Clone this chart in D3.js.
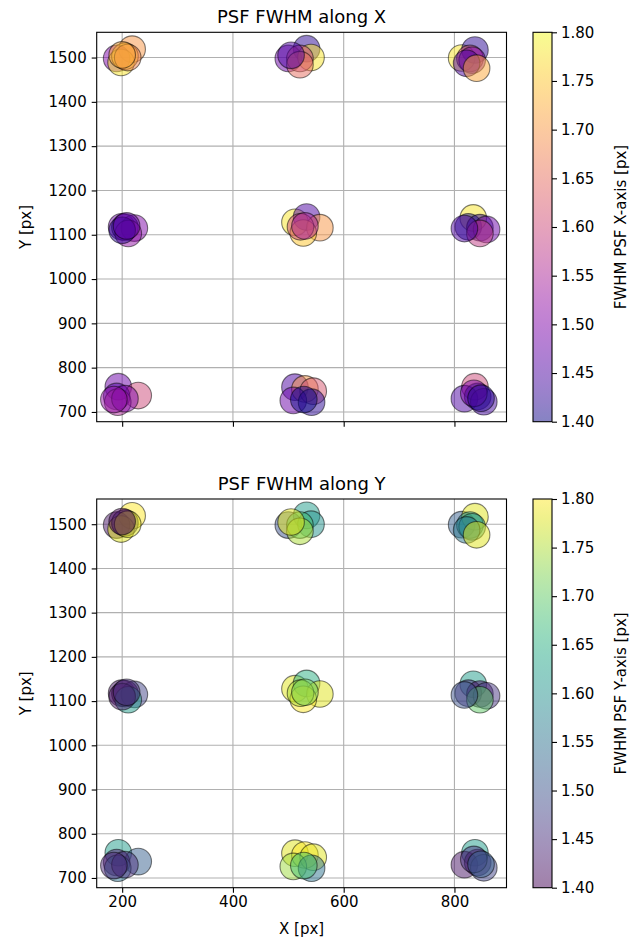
<!DOCTYPE html>
<html>
<head>
<meta charset="utf-8">
<script src="https://cdn.jsdelivr.net/npm/d3@7"></script>
<style>
  body { margin: 0; background: #fff; }
  text { font-family: "DejaVu Sans", sans-serif; fill: #000; }
</style>
</head>
<body>
<div id="chart"></div>
<script>
// star positions on the detector (same for both panels)
var starX = [218, 190, 198, 205, 210, 200,
             533, 500, 541, 521, 521, 505,
             813, 837, 828, 832, 822, 840,
             199, 222, 205, 211, 200, 208,
             512, 533, 557, 527, 522, 530,
             834, 825, 846, 858, 846, 818,
             193, 229, 190, 192, 205, 185,
             512, 530, 545, 509, 542, 528,
             837, 818, 842, 853, 835, 848];
var starY = [1519, 1498, 1489, 1503, 1500, 1506,
             1520, 1498, 1500, 1498, 1484, 1505,
             1499, 1517, 1498, 1494, 1487, 1476,
             1118, 1115, 1117, 1103, 1110, 1120,
             1128, 1140, 1116, 1104, 1118, 1120,
             1138, 1118, 1116, 1112, 1103, 1114,
             757, 737, 735, 722, 730, 728,
             756, 752, 747, 726, 722, 728,
             757, 730, 735, 723, 742, 731];
// measured FWHM along X and along Y [px]
var fwhmX = [1.70, 1.50, 1.78, 1.75, 1.68, 1.72,
             1.42, 1.48, 1.78, 1.60, 1.65, 1.45,
             1.78, 1.42, 1.60, 1.50, 1.45, 1.72,
             1.48, 1.50, 1.45, 1.52, 1.42, 1.47,
             1.78, 1.45, 1.70, 1.75, 1.60, 1.55,
             1.78, 1.40, 1.42, 1.48, 1.58, 1.45,
             1.48, 1.60, 1.45, 1.55, 1.50, 1.52,
             1.45, 1.70, 1.62, 1.48, 1.42, 1.40,
             1.60, 1.45, 1.40, 1.44, 1.50, 1.42];
var fwhmY = [1.80, 1.42, 1.78, 1.45, 1.78, 1.40,
             1.62, 1.50, 1.60, 1.68, 1.75, 1.78,
             1.52, 1.78, 1.60, 1.62, 1.56, 1.78,
             1.42, 1.48, 1.40, 1.62, 1.42, 1.45,
             1.78, 1.65, 1.78, 1.80, 1.75, 1.72,
             1.62, 1.45, 1.42, 1.46, 1.70, 1.50,
             1.62, 1.52, 1.42, 1.55, 1.45, 1.44,
             1.78, 1.80, 1.78, 1.74, 1.55, 1.68,
             1.62, 1.42, 1.40, 1.48, 1.46, 1.52];

var xTicks = [200, 400, 600, 800];
var yTicks = [700, 800, 900, 1000, 1100, 1200, 1300, 1400, 1500];
var cbarTicks = [1.40, 1.45, 1.50, 1.55, 1.60, 1.65, 1.70, 1.75, 1.80];

var W = 640, H = 941;
var plotLeft = 96.7, plotRight = 506.5;
var cbLeft = 533, cbWidth = 19;
var markerR = 13.3;

var panels = [
  { top: 32.3, bottom: 421.7, values: fwhmX, cmap: d3.interpolatePlasma,
    title: "PSF FWHM along X", cbLabel: "FWHM PSF X-axis [px]", xLabels: false, id: "gx" },
  { top: 499, bottom: 887.7, values: fwhmY, cmap: d3.interpolateViridis,
    title: "PSF FWHM along Y", cbLabel: "FWHM PSF Y-axis [px]", xLabels: true, id: "gy" }
];

var svg = d3.select("#chart").append("svg")
  .attr("width", W)
  .attr("height", H);

var defs = svg.append("defs");

var x = d3.scaleLinear().domain([154, 894]).range([plotLeft, plotRight]);

panels.forEach(function(p){
  var y = d3.scaleLinear().domain([678, 1557]).range([p.bottom, p.top]);
  var color = d3.scaleSequential(p.cmap).domain([1.4, 1.8]);
  var g = svg.append("g");

  // grid
  g.selectAll("line.gx").data(xTicks).enter().append("line")
    .attr("x1", function(d){ return x(d); })
    .attr("x2", function(d){ return x(d); })
    .attr("y1", p.top).attr("y2", p.bottom)
    .attr("stroke", "#b0b0b0").attr("stroke-width", 1.1);
  g.selectAll("line.gy").data(yTicks).enter().append("line")
    .attr("y1", function(d){ return y(d); })
    .attr("y2", function(d){ return y(d); })
    .attr("x1", plotLeft).attr("x2", plotRight)
    .attr("stroke", "#b0b0b0").attr("stroke-width", 1.1);

  // points
  var pts = starX.map(function(d, i){ return { x: d, y: starY[i], v: p.values[i] }; });
  g.selectAll("circle").data(pts).enter().append("circle")
    .attr("cx", function(d){ return x(d.x); })
    .attr("cy", function(d){ return y(d.y); })
    .attr("r", markerR)
    .attr("fill", function(d){ return color(d.v); })
    .attr("fill-opacity", 0.5)
    .attr("stroke", "#000")
    .attr("stroke-opacity", 0.5)
    .attr("stroke-width", 1.1);

  // axes
  var ax = g.append("g")
    .attr("transform", "translate(0," + p.bottom + ")")
    .call(d3.axisBottom(x).tickValues(xTicks).tickSize(5).tickPadding(4)
      .tickFormat(p.xLabels ? d3.format("d") : function(){ return ""; }));
  var ay = g.append("g")
    .attr("transform", "translate(" + plotLeft + ",0)")
    .call(d3.axisLeft(y).tickValues(yTicks).tickSize(5).tickPadding(5).tickFormat(d3.format("d")));
  [ax, ay].forEach(function(a){
    a.select(".domain").remove();
    a.selectAll("line").attr("stroke", "#000").attr("stroke-width", 1.1);
    a.selectAll("text").style("font-size", "15px").style("font-family", "DejaVu Sans");
  });

  g.append("rect")
    .attr("x", plotLeft).attr("y", p.top)
    .attr("width", plotRight - plotLeft).attr("height", p.bottom - p.top)
    .attr("fill", "none").attr("stroke", "#000").attr("stroke-width", 1.1);

  g.append("text")
    .attr("x", (plotLeft + plotRight) / 2).attr("y", p.top - 9)
    .attr("text-anchor", "middle").style("font-size", "18px")
    .text(p.title);

  g.append("text")
    .attr("transform", "translate(26," + ((p.top + p.bottom) / 2) + ") rotate(-90)")
    .attr("text-anchor", "middle").attr("dy", "0.35em").style("font-size", "15px")
    .text("Y [px]");

  if (p.xLabels) {
    g.append("text")
      .attr("x", (plotLeft + plotRight) / 2).attr("y", p.bottom + 46)
      .attr("text-anchor", "middle").style("font-size", "15px")
      .text("X [px]");
  }

  // colorbar
  var grad = defs.append("linearGradient").attr("id", p.id)
    .attr("x1", 0).attr("y1", 1).attr("x2", 0).attr("y2", 0);
  d3.range(0, 1.0001, 0.05).forEach(function(t){
    grad.append("stop").attr("offset", t)
      .attr("stop-color", p.cmap(t)).attr("stop-opacity", 0.5);
  });
  var cy = d3.scaleLinear().domain([1.4, 1.8]).range([p.bottom, p.top]);
  g.append("rect")
    .attr("x", cbLeft).attr("y", p.top)
    .attr("width", cbWidth).attr("height", p.bottom - p.top)
    .attr("fill", "url(#" + p.id + ")")
    .attr("stroke", "#000").attr("stroke-width", 1.1);
  var ac = g.append("g")
    .attr("transform", "translate(" + (cbLeft + cbWidth) + ",0)")
    .call(d3.axisRight(cy).tickValues(cbarTicks).tickSize(5).tickPadding(4).tickFormat(d3.format(".2f")));
  ac.select(".domain").remove();
  ac.selectAll("line").attr("stroke", "#000").attr("stroke-width", 1.1);
  ac.selectAll("text").style("font-size", "15px").style("font-family", "DejaVu Sans");

  g.append("text")
    .attr("transform", "translate(621," + ((p.top + p.bottom) / 2) + ") rotate(-90)")
    .attr("text-anchor", "middle").attr("dy", "0.35em").style("font-size", "15px")
    .text(p.cbLabel);
});
</script>
</body>
</html>
